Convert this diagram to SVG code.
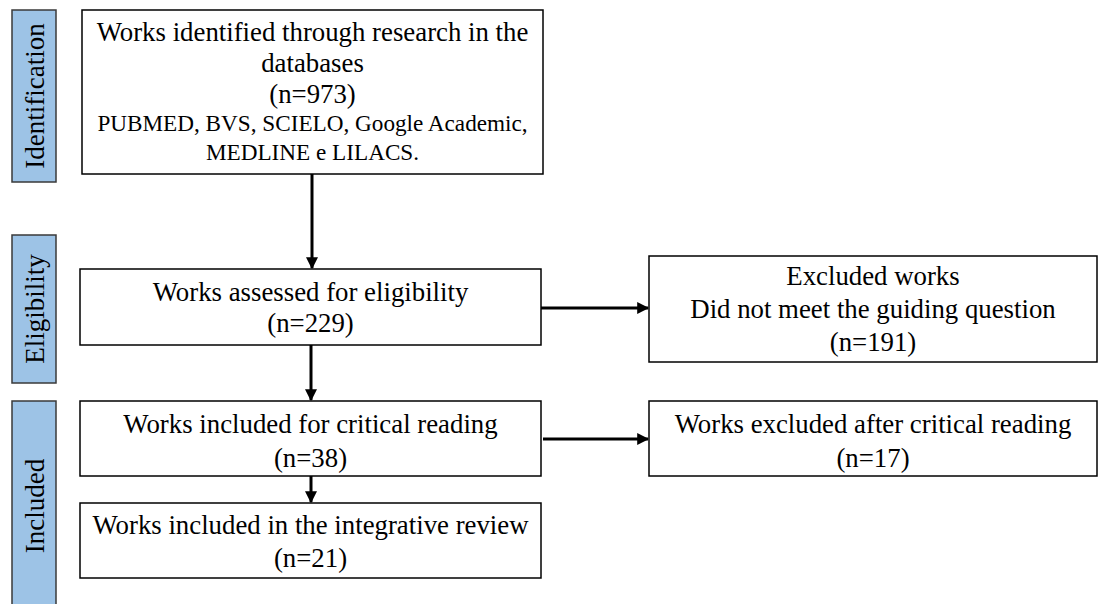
<svg xmlns="http://www.w3.org/2000/svg" width="1098" height="604" viewBox="0 0 1098 604">
<defs>
<style>
.bar{fill:#9DC3E6;stroke:#3a3a3a;stroke-width:1.5}
.box{fill:#fff;stroke:#000;stroke-width:1.5}
.t{font-family:"Liberation Serif","Times New Roman",serif;font-size:26.8px;fill:#000;text-anchor:middle}
.s{font-size:23.2px}
.lbl{font-family:"Liberation Serif","Times New Roman",serif;font-size:27px;fill:#000;text-anchor:middle}
.arr{stroke:#000;stroke-width:3;fill:none;marker-end:url(#ah)}
</style>
<marker id="ah" markerWidth="4" markerHeight="4" refX="3.6" refY="2" orient="auto" markerUnits="strokeWidth">
<path d="M0,0 L4,2 L0,4 Z" fill="#000"/>
</marker>
</defs>
<rect width="1098" height="604" fill="#fff"/>
<g id="bar-identification">
<rect class="bar" x="12" y="10" width="44" height="172"/>
<text class="lbl" transform="translate(44,96) rotate(-90)">Identification</text>
</g>
<g id="bar-eligibility">
<rect class="bar" x="12" y="235" width="44" height="148"/>
<text class="lbl" transform="translate(44,309) rotate(-90)">Eligibility</text>
</g>
<g id="bar-included">
<rect class="bar" x="12" y="401" width="44" height="210"/>
<text class="lbl" transform="translate(44,506) rotate(-90)">Included</text>
</g>
<g id="node-identified">
<rect class="box" x="82" y="10" width="461" height="164"/>
<text class="t" x="312.5" y="41">Works identified through research in the</text>
<text class="t" x="312.5" y="72">databases</text>
<text class="t" x="312.5" y="103">(n=973)</text>
<text class="t s" x="312.5" y="131">PUBMED, BVS, SCIELO, Google Academic,</text>
<text class="t s" x="312.5" y="160">MEDLINE e LILACS.</text>
</g>
<g id="node-eligibility">
<rect class="box" x="80" y="269" width="461" height="76"/>
<text class="t" x="310.5" y="301">Works assessed for eligibility</text>
<text class="t" x="310.5" y="332">(n=229)</text>
</g>
<g id="node-critical">
<rect class="box" x="80" y="401" width="461" height="75"/>
<text class="t" x="310.5" y="433">Works included for critical reading</text>
<text class="t" x="310.5" y="467">(n=38)</text>
</g>
<g id="node-review">
<rect class="box" x="80" y="503" width="461" height="75"/>
<text class="t" x="310.5" y="534">Works included in the integrative review</text>
<text class="t" x="310.5" y="567">(n=21)</text>
</g>
<g id="node-excluded1">
<rect class="box" x="649" y="256" width="448" height="106"/>
<text class="t" x="873" y="285">Excluded works</text>
<text class="t" x="873" y="318">Did not meet the guiding question</text>
<text class="t" x="873" y="351">(n=191)</text>
</g>
<g id="node-excluded2">
<rect class="box" x="649" y="401" width="448" height="75"/>
<text class="t" x="873" y="433">Works excluded after critical reading</text>
<text class="t" x="873" y="467">(n=17)</text>
</g>
<g id="connectors">
<line class="arr" x1="312" y1="174" x2="312" y2="268"/>
<line class="arr" x1="311" y1="345" x2="311" y2="400"/>
<line class="arr" x1="311" y1="476" x2="311" y2="502"/>
<line class="arr" x1="541" y1="308" x2="648" y2="308"/>
<line class="arr" x1="543" y1="439" x2="648" y2="439"/>
</g>
</svg>
